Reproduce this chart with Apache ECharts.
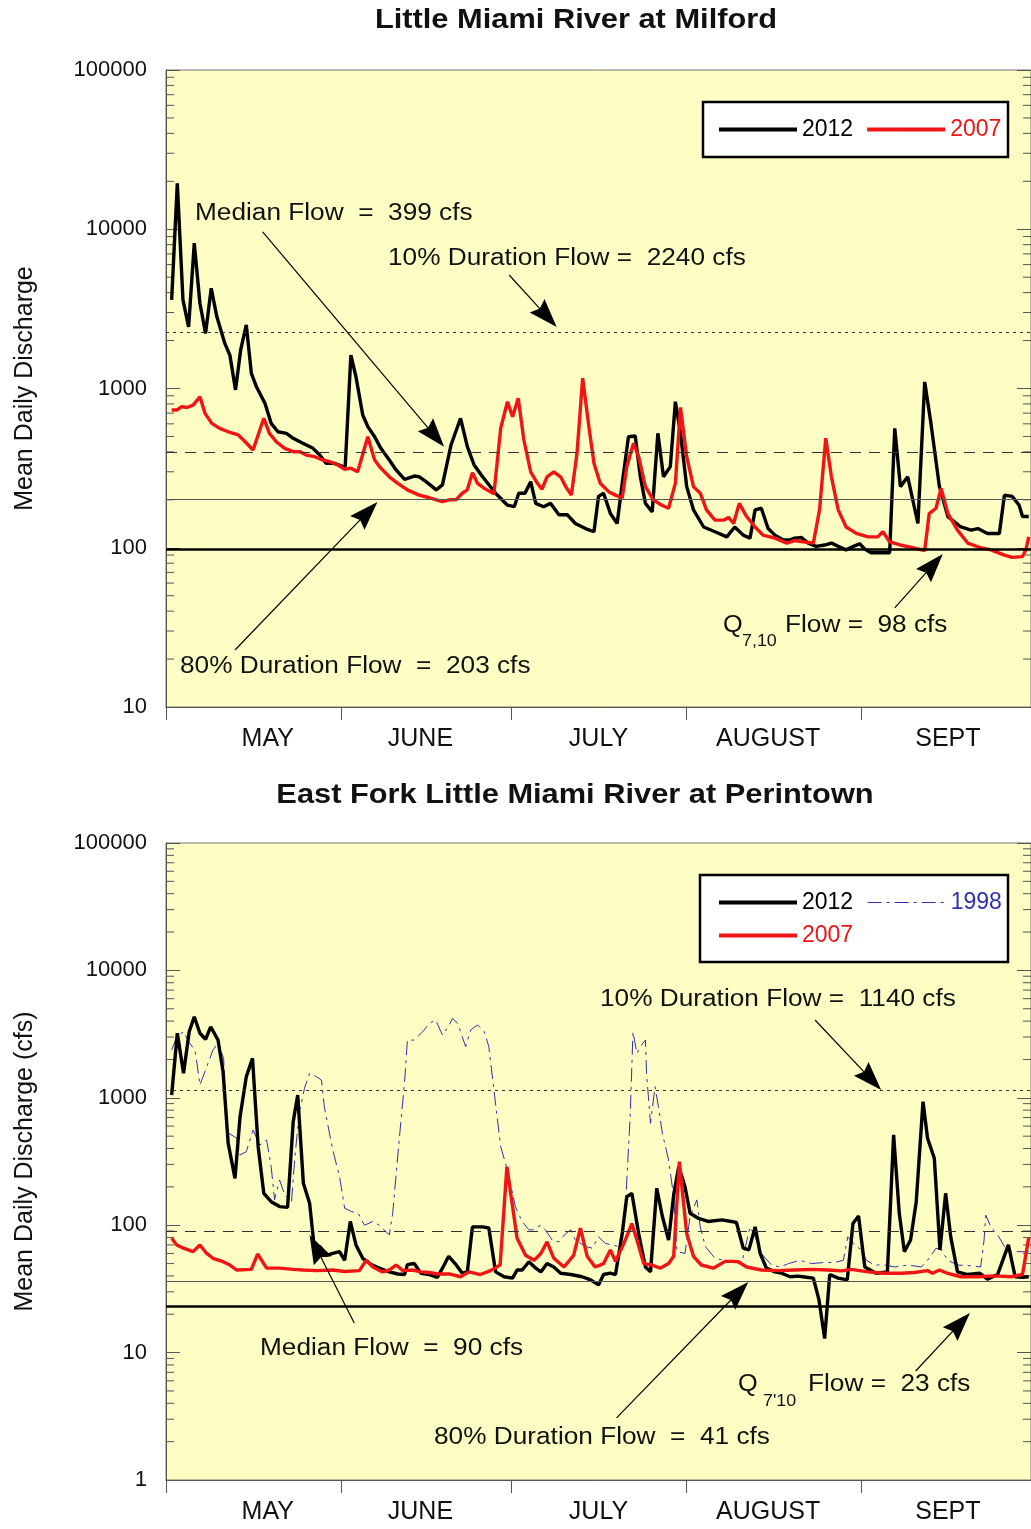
<!DOCTYPE html>
<html><head><meta charset="utf-8">
<script src="https://cdn.jsdelivr.net/npm/echarts@6/dist/echarts.min.js"></script>
<style>html,body{margin:0;padding:0;background:#fff}#c{width:1031px;height:1529px}</style>
</head><body><div id="c"></div>
<script>
// ---------------- data ----------------
const monthNames = ['MAY', 'JUNE', 'JULY', 'AUGUST', 'SEPT'];
const monthStartDays = [0, 31, 61, 92, 123, 153];
const monthLabelDays = [18, 45, 76.5, 106.5, 138.3];

// Little Miami River at Milford  [day since May 1, cfs]
const milford2012 = [[1.0,3600],[2.0,19400],[3.0,3600],[4.0,2440],[5.0,8170],[6.0,3430],[7.0,2220],[8.0,4260],[9.0,2820],[10.4,1920],[11.3,1620],[12.3,980],[13.2,1740],[14.2,2510],[15.1,1245],[16.0,1025],[17.5,807],[18.6,604],[19.8,535],[21.3,523],[22.5,487],[24.2,453],[26.0,421],[27.2,382],[28.3,339],[29.8,339],[31.3,323],[31.7,325],[32.7,1620],[33.6,1185],[34.8,682],[35.7,576],[36.9,498],[38.0,421],[39.5,356],[40.7,308],[42.2,269],[43.9,282],[44.8,279],[46.0,260],[47.8,231],[48.9,248],[50.4,440],[52.1,650],[53.3,431],[54.5,331],[56.0,279],[58.3,220],[60.4,185],[61.6,181],[62.4,220],[63.5,220],[64.5,260],[65.4,190],[66.8,181],[68.0,190],[69.5,161],[71.0,161],[72.4,142],[74.2,132],[75.7,126],[76.5,210],[77.4,220],[78.6,164],[79.8,142],[80.7,254],[81.8,498],[83.0,503],[83.9,279],[84.8,190],[86.0,168],[87.0,523],[88.0,279],[89.2,323],[90.1,826],[91.0,523],[92.1,242],[93.3,173],[95.1,135],[97.1,126],[99.2,117],[100.6,135],[102.1,120],[103.3,115],[104.2,173],[105.3,177],[106.5,132],[107.7,120],[109.2,112],[110.4,112],[111.2,115],[112.4,116],[113.6,107],[115.0,102],[116.5,104],[117.7,107],[118.9,102],[120.3,97],[121.6,102],[122.7,106],[123.6,98],[124.7,93],[128.0,93],[128.9,562],[129.9,242],[131.2,279],[133.0,142],[134.2,1100],[135.3,604],[136.8,242],[138.3,157],[140.6,135],[142.4,129],[143.6,132],[145.3,123],[147.4,123],[148.3,214],[149.7,210],[150.9,185],[151.5,157],[152.6,157]];
const milford2007 = [[1.0,733],[1.9,733],[2.8,769],[3.7,760],[4.8,787],[6.0,888],[6.9,698],[8.1,604],[9.5,562],[11.0,535],[12.8,511],[14.0,463],[15.4,411],[17.3,650],[18.3,523],[19.5,463],[21.0,421],[22.5,401],[23.7,401],[24.8,382],[26.3,373],[27.7,356],[28.9,348],[30.4,331],[31.6,311],[32.7,316],[33.9,300],[35.7,498],[36.9,356],[38.0,316],[39.5,279],[41.0,254],[42.7,231],[44.8,214],[46.6,206],[48.9,195],[50.1,200],[51.3,200],[52.4,220],[53.3,231],[54.2,296],[55.1,254],[56.3,236],[58.0,218],[59.2,562],[60.4,826],[61.3,665],[62.3,868],[63.3,475],[64.5,300],[65.7,254],[66.5,233],[67.4,279],[68.6,300],[69.8,279],[70.7,242],[71.7,214],[72.7,392],[73.7,1160],[74.8,576],[75.7,339],[76.8,254],[78.3,225],[79.5,214],[80.7,206],[81.5,323],[82.7,453],[83.6,373],[84.8,242],[86.2,200],[87.7,185],[88.9,177],[90.1,254],[91.0,760],[92.1,373],[93.3,242],[94.5,220],[95.6,173],[97.1,149],[98.6,149],[99.5,155],[100.4,142],[101.4,190],[102.7,157],[104.2,135],[105.6,120],[107.7,115],[109.8,107],[111.2,111],[112.7,109],[114.5,107],[115.6,173],[116.7,487],[117.7,279],[118.9,173],[120.3,135],[122.1,123],[124.2,117],[125.9,117],[126.8,126],[128.0,109],[130.0,104],[132.1,100],[134.2,96],[135.0,164],[136.2,177],[137.1,236],[138.3,164],[140.0,129],[141.8,107],[144.1,100],[145.9,97],[148.3,90],[149.7,87],[151.5,88],[152.1,97],[152.6,117]];
const milfordRefFlows = [2240, 399, 203, 98];   // 10% duration, median, 80% duration, Q7,10
// arrows: [fromDay, fromCfs, toDay, toCfs]
const milfordArrows = [[17.1,9620,49.2,430],[60.7,5160,69.1,2430],[12.2,22.8,37.4,194],[128.9,41.9,137.4,91.4]];

// East Fork Little Miami River at Perintown
const perintown2012 = [[1.0,1052],[2.0,3210],[3.1,1556],[4.1,3300],[5.0,4330],[6.0,3210],[7.0,2880],[7.9,3610],[9.2,2840],[10.1,1600],[11.0,439],[12.2,233],[13.1,711],[14.2,1465],[15.3,2040],[16.3,413],[17.3,178],[18.6,153],[20.1,140],[21.5,138],[22.5,650],[23.3,1052],[24.3,213],[25.4,149],[26.3,62],[27.2,68],[28.3,58],[29.5,60],[30.7,62],[31.6,53],[32.6,107],[33.6,70],[34.8,55],[36.3,49],[37.7,46],[39.5,43],[41.0,41.4],[42.2,41],[42.7,49],[43.9,50],[45.1,42],[46.6,41],[48.0,39],[48.9,46],[50.0,57],[51.3,49],[52.4,42],[53.3,43],[54.2,97],[56.0,97],[57.1,95],[58.3,43],[59.8,39.4],[61.3,38.4],[62.1,44.5],[63.0,44.5],[64.2,51.7],[65.4,46],[66.3,43],[67.4,50],[68.6,47],[69.8,42],[71.6,41],[73.6,39.4],[75.1,37.2],[76.5,34],[77.4,41],[78.6,42],[79.5,41],[80.7,86],[81.5,167],[82.4,178],[83.6,86],[84.8,47],[85.7,43],[86.8,195],[87.8,117],[88.9,76.5],[89.8,173],[90.7,288],[91.8,200],[92.7,124],[94.2,113],[95.9,107],[98.3,110],[100.0,107],[100.9,105],[102.1,66],[103.1,64],[104.2,97],[105.1,60],[106.2,46],[107.7,43],[108.9,42],[110.4,39.4],[111.8,39.8],[113.3,39],[114.5,38.4],[115.5,25.9],[116.5,12.9],[117.4,41],[118.9,38.4],[120.5,37.2],[121.5,103],[122.5,118],[123.6,47],[125.6,42],[127.6,43],[128.7,511],[129.7,124],[130.6,62],[131.7,76.5],[132.7,153],[133.9,933],[134.7,481],[135.9,335],[136.9,64],[137.9,178],[138.8,81],[140.0,43],[141.8,41],[143.9,42],[145.3,37.7],[147.1,41],[149.0,70],[150.2,39.4],[151.5,39],[152.6,39.4]];
const perintown2007 = [[1.0,79],[1.9,70],[3.1,66],[4.8,62],[6.0,70],[7.2,60],[8.3,55],[10.1,51.7],[11.3,48.7],[12.5,44.5],[15.1,45],[16.2,59.4],[17.8,46],[20.1,46],[22.5,45],[24.2,44.5],[26.6,44],[29.5,44.5],[31.6,43.3],[34.2,44],[35.4,53],[36.6,47],[38.3,43],[39.5,44.5],[40.7,48.7],[41.9,44],[43.6,44.5],[45.1,43],[46.6,42.5],[48.0,41.4],[50.1,41.5],[52.1,39.4],[53.6,43],[55.6,41],[57.4,44],[59.1,48.7],[60.3,288],[61.3,140],[62.1,79],[63.6,58],[65.1,53],[66.3,60],[67.4,74],[68.6,55],[70.4,47],[72.1,58],[73.3,95],[74.5,57],[75.9,47],[77.4,50],[78.6,64],[79.5,52],[81.0,72],[82.4,103],[83.3,76.5],[84.5,50],[85.9,48.7],[87.4,46],[88.9,50],[89.8,57],[90.8,315],[92.1,86],[93.3,57],[94.7,48.7],[96.8,46],[98.9,52],[100.2,52],[101.2,51.7],[102.7,47],[105.3,44.5],[108.3,44],[111.2,44.5],[114.2,45],[117.1,44.5],[119.5,43.8],[121.2,45],[124.2,43],[127.1,42],[130.1,42],[132.4,42.5],[134.7,44],[135.6,42],[136.8,44.5],[138.3,41.8],[140.6,39.4],[143.6,39.4],[146.5,40],[149.5,39.4],[151.5,41],[152.6,80]];
const perintown1998 = [[1.0,2370],[1.9,3020],[3.1,3300],[4.2,2680],[5.1,2370],[5.4,1980],[6.0,1260],[7.2,1750],[8.3,2370],[9.2,2680],[10.2,2040],[10.7,542],[12.5,481],[13.1,356],[14.2,378],[15.4,558],[16.6,426],[17.8,467],[18.6,288],[19.2,158],[20.1,226],[21.0,173],[22.2,153],[22.8,345],[23.6,778],[24.5,1188],[25.4,1556],[26.6,1465],[27.5,1380],[28.0,851],[29.5,389],[30.7,240],[31.6,136],[32.8,128],[34.0,124],[35.1,100],[36.6,107],[37.7,100],[39.5,84],[40.1,124],[41.3,495],[42.2,1338],[42.7,2840],[43.9,2840],[45.4,3300],[46.6,3840],[47.7,4080],[48.9,3110],[50.1,3730],[50.7,4200],[51.6,3840],[52.4,3020],[53.0,2520],[53.9,3410],[55.1,3730],[56.3,3300],[57.1,2520],[58.0,1152],[59.2,413],[60.4,271],[61.8,140],[63.0,107],[64.2,92],[65.0,92],[66.3,100],[67.1,92],[68.3,76.5],[69.5,74],[70.7,86],[71.6,92],[72.4,76.5],[74.2,68],[75.4,66],[76.5,81],[77.7,72],[78.9,70],[80.1,68],[81.2,124],[82.1,711],[82.6,3300],[83.3,2230],[83.9,2520],[84.8,2840],[85.0,1556],[85.7,630],[86.5,1222],[87.1,851],[87.8,526],[88.9,325],[89.8,167],[90.4,62],[91.8,60],[92.7,117],[93.9,158],[94.5,97],[95.4,68],[97.1,55],[99.5,52],[101.9,52],[103.3,97],[104.2,81],[105.3,60],[107.1,48.7],[108.6,47],[110.1,50],[112.1,53],[114.2,50],[116.5,51],[118.3,51],[119.8,53],[120.6,81],[121.8,70],[123.0,64],[123.9,53],[125.3,48.7],[127.1,48.7],[128.9,47],[131.2,48.7],[133.6,47],[134.7,53],[136.2,66],[137.1,64],[138.3,53],[140.0,48.7],[142.4,48],[144.1,47],[144.7,76.5],[145.0,120],[145.9,97],[147.1,84],[148.3,68],[149.5,62],[150.7,62],[152.6,62]];
const perintownRefFlows = [1140, 90, 36.5, 23];
const perintownArrows = [[114.8,4080,126.5,1152],[33.3,17.1,25.4,83.8],[79.7,3.07,103,35.8],[132.6,7.17,142.2,20.5]];

// ---------------- styling / layout ----------------
const SANS = "'Liberation Sans',Arial,Helvetica,sans-serif";
const PLOT_BG = '#fdfdc4';
const RED = '#f01414';
const BLUE = '#3030b0';
const AX = '#555';

function minorTicks(lo, hi) {
  const out = [];
  for (let d = lo; d < hi; d *= 10) for (let k = 2; k <= 9; k++) out.push([0, d * k]);
  return out;
}

function xAxisFor(g) {
  return {
    gridIndex: g, type: 'value', min: 0, max: 153,
    axisLine: { show: true, onZero: false, lineStyle: { color: AX, width: 1 } },
    axisTick: { show: true, inside: false, length: 13, customValues: monthStartDays, lineStyle: { color: AX } },
    axisLabel: { customValues: monthLabelDays, margin: 20, fontSize: 25, fontFamily: SANS, color: '#111',
      formatter: v => monthNames[monthLabelDays.indexOf(v)] || '' },
    splitLine: { show: false }
  };
}
function yAxisFor(g, min, pos, name) {
  return {
    gridIndex: g, type: 'log', logBase: 10, min: min, max: 100000, position: pos,
    name: name || '', nameLocation: 'middle', nameGap: 128, nameRotate: 90,
    nameTextStyle: { fontSize: 25, fontFamily: SANS, color: '#111' },
    axisLine: { show: true, lineStyle: { color: AX, width: 1 } },
    axisTick: { show: true, inside: true, length: 14, lineStyle: { color: AX } },
    axisLabel: { show: pos === 'left', margin: 19, fontSize: 22, fontFamily: SANS, color: '#111', formatter: v => String(v) },
    splitLine: { show: false }
  };
}
function minorTickSeries(xi, yi, lo) {
  return {
    type: 'custom', xAxisIndex: xi, yAxisIndex: yi, silent: true, z: 3,
    data: minorTicks(lo, 100000),
    renderItem: (params, api) => {
      const y = api.coord([0, api.value(1)])[1];
      const cs = params.coordSys;
      return { type: 'group', children: [
        { type: 'line', shape: { x1: cs.x, y1: y, x2: cs.x + 8, y2: y }, style: { stroke: AX, lineWidth: 1 } },
        { type: 'line', shape: { x1: cs.x + cs.width - 8, y1: y, x2: cs.x + cs.width, y2: y }, style: { stroke: AX, lineWidth: 1 } }
      ] };
    }
  };
}
function arrowSeries(xi, yi, list) {
  return {
    type: 'custom', xAxisIndex: xi, yAxisIndex: yi, silent: true, z: 20, clip: false,
    encode: { x: [0, 2], y: [1, 3] },
    data: list,
    renderItem: (params, api) => {
      const p0 = api.coord([api.value(0), api.value(1)]);
      const p1 = api.coord([api.value(2), api.value(3)]);
      const dx = p1[0] - p0[0], dy = p1[1] - p0[1];
      const L = Math.sqrt(dx * dx + dy * dy), ux = dx / L, uy = dy / L;
      const len = 29, hw = 10;
      const bx = p1[0] - ux * len, by = p1[1] - uy * len;
      return { type: 'group', children: [
        { type: 'line', shape: { x1: p0[0], y1: p0[1], x2: bx + ux * 4, y2: by + uy * 4 }, style: { stroke: '#000', lineWidth: 1.2 } },
        { type: 'polygon', shape: { points: [[p1[0], p1[1]], [bx - uy * hw, by + ux * hw], [bx + ux * 4, by + uy * 4], [bx + uy * hw, by - ux * hw]] }, style: { fill: '#000' } }
      ] };
    }
  };
}
function refLines(vals) {
  const styles = [
    { type: [3, 4], color: '#333', width: 1.2 },
    { type: [11, 8], color: '#333', width: 1.2 },
    { type: 'solid', color: '#555', width: 1.2 },
    { type: 'solid', color: '#000', width: 2.5 }
  ];
  return { silent: true, symbol: 'none', label: { show: false }, animation: false,
    data: vals.map((v, i) => ({ yAxis: v, lineStyle: styles[i] })) };
}
function lineSeries(name, data, xi, yi, color, width, type, extra) {
  return Object.assign({
    name: name, type: 'line', xAxisIndex: xi, yAxisIndex: yi, data: data,
    symbol: 'none', showSymbol: false, z: 4,
    lineStyle: { color: color, width: width, type: type || 'solid' }, itemStyle: { color: color }
  }, extra || {});
}
function note(text, x, y, size, sx) {
  return { type: 'text', x: x, y: y, scaleX: sx || 1.14, z: 30,
    style: { text: text, fontSize: size || 23, fontFamily: SANS, fill: '#111', align: 'left', verticalAlign: 'middle' } };
}
function legendItem(name, color, width, dash) {
  return { name: name, textStyle: { color: color },
    itemStyle: { opacity: 0 }, lineStyle: { color: color, width: width, type: dash || 'solid', opacity: 1 } };
}
const legendBase = { itemWidth: 78, itemHeight: 14, itemGap: 12, z: 20, padding: 0, selectedMode: false,
  textStyle: { fontSize: 23, fontFamily: SANS }, itemStyle: { opacity: 0 } };

const chart = echarts.init(document.getElementById('c'), null, { renderer: 'canvas' });
chart.setOption({
  animation: false,
  backgroundColor: '#fff',
  grid: [
    { left: 166, top: 70, width: 867, height: 637, show: true, backgroundColor: PLOT_BG, borderColor: '#777', borderWidth: 1 },
    { left: 166, top: 843, width: 867, height: 637, show: true, backgroundColor: PLOT_BG, borderColor: '#777', borderWidth: 1 }
  ],
  xAxis: [xAxisFor(0), xAxisFor(1)],
  yAxis: [
    yAxisFor(0, 10, 'left', 'Mean Daily Discharge'), yAxisFor(0, 10, 'right'),
    yAxisFor(1, 1, 'left', 'Mean Daily Discharge (cfs)'), yAxisFor(1, 1, 'right')
  ],
  legend: [
    Object.assign({}, legendBase, { left: 717, top: 118,
      data: [legendItem('2012', '#000', 4), legendItem('2007', RED, 4)] }),
    Object.assign({}, legendBase, { left: 717, top: 891, itemGap: 14,
      data: [legendItem('2012', '#000', 4), legendItem('1998', BLUE, 1, [14, 5, 3, 5])] }),
    Object.assign({}, legendBase, { left: 717, top: 924,
      data: [legendItem('2007', RED, 4)] })
  ],
  graphic: { elements: [
    { type: 'text', x: 576, y: 20, z: 30, scaleX: 1.1, style: { text: 'Little Miami River at Milford', fontSize: 28, fontWeight: 'bold', fontFamily: SANS, fill: '#111', align: 'center', verticalAlign: 'middle' } },
    { type: 'text', x: 575, y: 795, z: 30, scaleX: 1.1, style: { text: 'East Fork Little Miami River at Perintown', fontSize: 28, fontWeight: 'bold', fontFamily: SANS, fill: '#111', align: 'center', verticalAlign: 'middle' } },
    { type: 'rect', x: 703, y: 102, z: 10, shape: { width: 305, height: 55 }, style: { fill: '#fff', stroke: '#000', lineWidth: 2.5 } },
    { type: 'rect', x: 700, y: 875, z: 10, shape: { width: 308, height: 87 }, style: { fill: '#fff', stroke: '#000', lineWidth: 2.5 } },
    note('Median Flow  =  399 cfs', 195, 214),
    note('10% Duration Flow =  2240 cfs', 388, 259),
    note('80% Duration Flow  =  203 cfs', 180, 667),
    note('Q', 723, 626, 23, 1.1),
    note('7,10', 742, 641, 17, 1.05),
    note('Flow =  98 cfs', 785, 626),
    note('10% Duration Flow =  1140 cfs', 600, 1000),
    note('Median Flow  =  90 cfs', 260, 1349),
    note('80% Duration Flow  =  41 cfs', 434, 1438),
    note('Q', 738, 1385, 23, 1.1),
    note("7'10", 763, 1401, 17, 1.05),
    note('Flow =  23 cfs', 808, 1385)
  ] },
  series: [
    minorTickSeries(0, 0, 10),
    minorTickSeries(1, 2, 1),
    lineSeries('2012', milford2012, 0, 0, '#000', 3.4, 'solid', { markLine: refLines(milfordRefFlows) }),
    lineSeries('2007', milford2007, 0, 0, RED, 3.4, 'solid'),
    arrowSeries(0, 0, milfordArrows),
    lineSeries('1998', perintown1998, 1, 2, BLUE, 1, [14, 5, 3, 5]),
    lineSeries('2012', perintown2012, 1, 2, '#000', 3.4, 'solid', { markLine: refLines(perintownRefFlows) }),
    lineSeries('2007', perintown2007, 1, 2, RED, 3.4, 'solid'),
    arrowSeries(1, 2, perintownArrows)
  ]
});
</script></body></html>
